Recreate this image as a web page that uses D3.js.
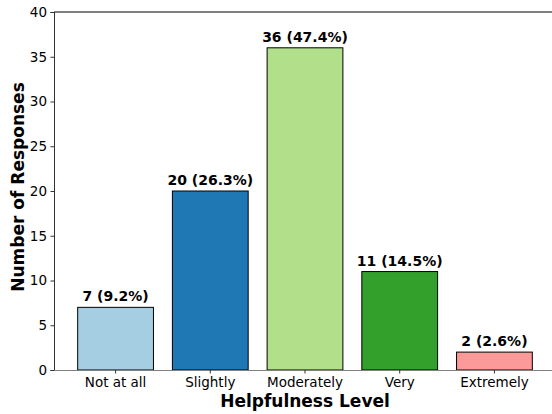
<!DOCTYPE html>
<html><head><meta charset="utf-8">
<script src="https://cdn.jsdelivr.net/npm/d3@7"></script>
<style>body{margin:0;background:#fff}svg{display:block;font-family:"DejaVu Sans",sans-serif}</style>
</head><body><svg id="c" width="552" height="414"></svg>
<script>
const categories = ["Not at all","Slightly","Moderately","Very","Extremely"];
const counts = [7,20,36,11,2];
const percents = ["9.2","26.3","47.4","14.5","2.6"];
const colors = ["#a6cee3","#1f78b4","#b2df8a","#33a02c","#fb9a99"];
const yTicks = [0,5,10,15,20,25,30,35,40];

(function(){
const svg = d3.select("#c");
const mL = 54, mR = 556, mT = 12, mB = 370;
const x = d3.scaleBand().domain(categories).range([mL,mR]).paddingInner(0.2).paddingOuter(0.25);
const y = d3.scaleLinear().domain([0,40]).range([mB,mT]);

svg.selectAll("rect.bar").data(categories).join("rect").attr("class","bar")
  .attr("x", d=>x(d)).attr("width", x.bandwidth())
  .attr("y", (d,i)=>y(counts[i])).attr("height",(d,i)=>y(0)-y(counts[i]))
  .attr("fill",(d,i)=>colors[i]).attr("stroke","#000").attr("stroke-width",1);

svg.selectAll("text.lab").data(categories).join("text").attr("class","lab")
  .attr("x", d=>x(d)+x.bandwidth()/2).attr("y",(d,i)=>y(counts[i])-6)
  .attr("text-anchor","middle").attr("font-size",14).attr("font-weight","bold")
  .text((d,i)=>`${counts[i]} (${percents[i]}%)`);

const ya = svg.append("g").attr("transform",`translate(${mL},0)`)
  .call(d3.axisLeft(y).tickValues(yTicks).tickSize(3.5).tickPadding(3.5));
ya.select(".domain").attr("stroke","#333");
ya.selectAll(".tick line").attr("stroke","#333");
ya.selectAll("text").attr("font-size",13.5).attr("fill","#000").attr("font-family","DejaVu Sans");

const xa = svg.append("g").attr("transform",`translate(0,${mB})`)
  .call(d3.axisBottom(x).tickSize(3.5).tickPadding(3.5).tickSizeOuter(0));
xa.select(".domain").attr("stroke","#808080");
xa.selectAll(".tick line").attr("stroke","#333");
xa.selectAll("text").attr("font-size",13.5).attr("fill","#000").attr("font-family","DejaVu Sans");

svg.append("line").attr("x1",mL).attr("x2",mR).attr("y1",mT).attr("y2",mT).attr("stroke","#000").attr("stroke-width",1);

svg.append("text").attr("x",305).attr("y",407).attr("text-anchor","middle")
  .attr("font-size",17).attr("font-weight","bold").text("Helpfulness Level");
svg.append("text").attr("transform",`translate(24,187) rotate(-90)`).attr("text-anchor","middle")
  .attr("font-size",17).attr("font-weight","bold").text("Number of Responses");
})();
</script></body></html>
